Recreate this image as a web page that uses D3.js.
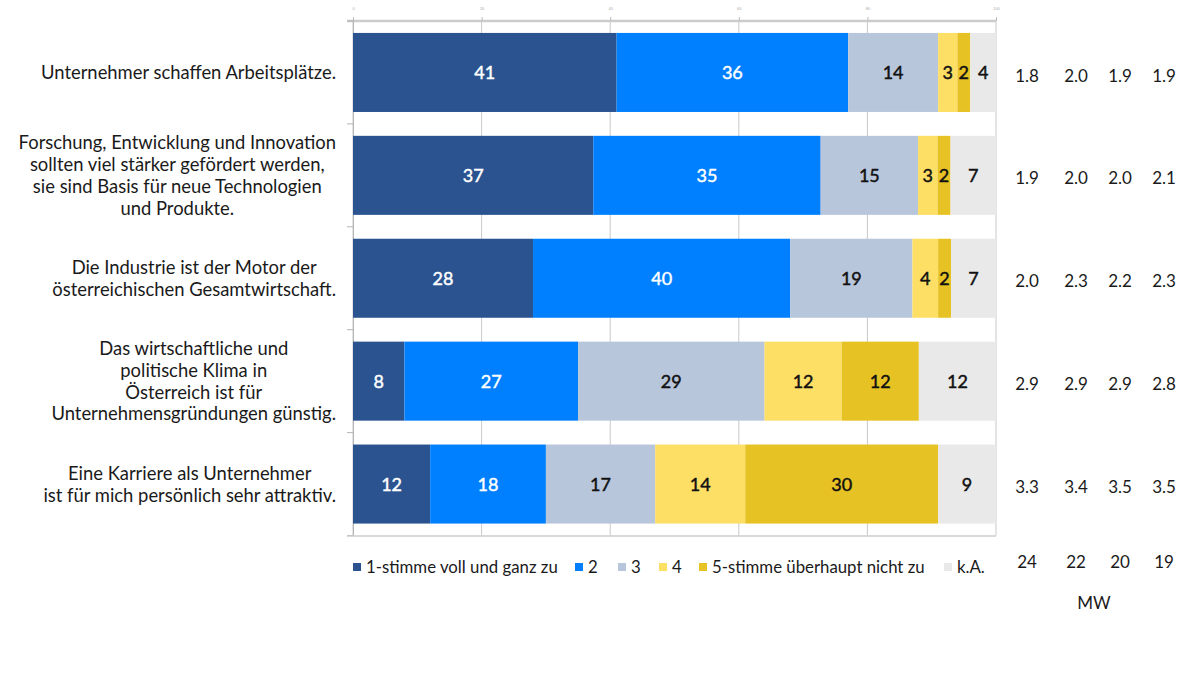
<!DOCTYPE html>
<html>
<head>
<meta charset="utf-8">
<script src="https://cdn.jsdelivr.net/npm/d3@7"></script>
<style>
  html, body { margin: 0; padding: 0; background: #fff; }
  svg { display: block; font-family: Lato, "Open Sans", sans-serif; }
</style>
</head>
<body>
<svg id="chart" width="1196" height="684"></svg>
<script>
// Statements (each entry is the list of wrapped lines)
const statements = [
  ["Unternehmer schaffen Arbeitsplätze."],
  ["Forschung, Entwicklung und Innovation", "sollten viel stärker gefördert werden,", "sie sind Basis für neue Technologien", "und Produkte."],
  ["Die Industrie ist der Motor der", "österreichischen Gesamtwirtschaft."],
  ["Das wirtschaftliche und", "politische Klima in", "Österreich ist für", "Unternehmensgründungen günstig."],
  ["Eine Karriere als Unternehmer", "ist für mich persönlich sehr attraktiv."]
];

// Answer categories
const answers = ["1-stimme voll und ganz zu", "2", "3", "4", "5-stimme überhaupt nicht zu", "k.A."];
const colors = ["#2a5390", "#0080ff", "#b8c6dc", "#fddf66", "#e6c224", "#e9e9e9"];
const labelColors = ["#ffffff", "#ffffff", "#111111", "#111111", "#111111", "#111111"];

// Percent shares per statement, in answer order
const share1 = [41, 37, 28, 8, 12];
const share2 = [36, 35, 40, 27, 18];
const share3 = [14, 15, 19, 29, 17];
const share4 = [3, 3, 4, 12, 14];
const share5 = [2, 2, 2, 12, 30];
const shareKA = [4, 7, 7, 12, 9];

// Mean values (MW) for four survey waves
const mwWaves = ["24", "22", "20", "19"];
const mwA = ["1.8", "1.9", "2.0", "2.9", "3.3"];
const mwB = ["2.0", "2.0", "2.3", "2.9", "3.4"];
const mwC = ["1.9", "2.0", "2.2", "2.9", "3.5"];
const mwD = ["1.9", "2.1", "2.3", "2.8", "3.5"];

const xTicks = [0, 20, 40, 60, 80, 100];

const svg = d3.select("#chart");

const x = d3.scaleLinear().domain([0, 100]).range([353, 996]);
const y = d3.scaleBand()
  .domain(d3.range(statements.length))
  .range([21, 535.5])
  .paddingInner(0.232)
  .paddingOuter(0.116);

const seriesArrays = [share1, share2, share3, share4, share5, shareKA];
const rows = statements.map((s, i) => {
  const vals = seriesArrays.map(a => a[i]);
  const total = d3.sum(vals);
  let acc = 0;
  return vals.map((v, k) => {
    const s0 = acc / total * 100;
    acc += v;
    const s1 = acc / total * 100;
    return { row: i, k, v, s0, s1 };
  });
});

// Vertical gridlines
svg.append("g")
  .selectAll("line")
  .data(xTicks)
  .join("line")
  .attr("x1", d => x(d)).attr("x2", d => x(d))
  .attr("y1", 21).attr("y2", 535.5)
  .attr("stroke", "#c9c9c9").attr("stroke-width", 1);

// Top axis
const topAxis = svg.append("g")
  .attr("transform", "translate(0,21)")
  .call(d3.axisTop(x).tickValues(xTicks).tickSize(4).tickPadding(7));
topAxis.select(".domain").attr("stroke", "#cccccc").attr("stroke-width", 2.5)
  .attr("d", `M347,0H${x(100)}`);
topAxis.selectAll(".tick line").attr("stroke", "#bbbbbb");
topAxis.selectAll(".tick text").attr("fill", "#aaaaaa").attr("font-size", 4);

// Left axis with ticks at band boundaries
const bounds = d3.range(statements.length + 1).map(i => 21 + i * y.step());
svg.append("line")
  .attr("x1", 353.5).attr("x2", 353.5).attr("y1", 21).attr("y2", 536)
  .attr("stroke", "#b5b5b5");
svg.append("g").selectAll("line").data(bounds).join("line")
  .attr("x1", 347).attr("x2", 353.5)
  .attr("y1", d => d).attr("y2", d => d)
  .attr("stroke", "#b5b5b5");
svg.append("line")
  .attr("x1", 347).attr("x2", x(100)).attr("y1", 536).attr("y2", 536)
  .attr("stroke", "#cccccc").attr("stroke-width", 1.5);

// Stacked bars
const rowG = svg.append("g").selectAll("g").data(rows).join("g");
rowG.selectAll("rect")
  .data(d => d)
  .join("rect")
  .attr("x", d => x(d.s0))
  .attr("width", d => x(d.s1) - x(d.s0))
  .attr("y", d => y(d.row))
  .attr("height", y.bandwidth())
  .attr("fill", d => colors[d.k]);

rowG.selectAll("text")
  .data(d => d)
  .join("text")
  .attr("x", d => (x(d.s0) + x(d.s1)) / 2)
  .attr("y", d => y(d.row) + y.bandwidth() / 2)
  .attr("dy", "0.36em")
  .attr("text-anchor", "middle")
  .attr("font-size", 18)
  .attr("fill", d => labelColors[d.k])
  .attr("stroke", d => labelColors[d.k])
  .attr("stroke-width", 0.45)
  .text(d => d.v);

// Statement labels: centred text, block right-aligned to the axis
const catG = svg.append("g");
statements.forEach((lines, i) => {
  const lh = 21.8;
  const cy = y(i) + y.bandwidth() / 2;
  const t = catG.append("text")
    .attr("font-size", 18.4)
    .attr("fill", "#1a1a1a")
    .attr("text-anchor", "middle");
  lines.forEach((ln, j) => {
    t.append("tspan")
      .attr("y", cy + (j - (lines.length - 1) / 2) * lh)
      .attr("dy", "0.36em")
      .text(ln);
  });
  let maxW = 0;
  t.selectAll("tspan").each(function () {
    maxW = Math.max(maxW, this.getComputedTextLength());
  });
  t.selectAll("tspan").attr("x", 336 - maxW / 2);
});

// Mean value columns
const mwCols = [mwA, mwB, mwC, mwD];
const mwX = d3.scaleOrdinal().domain(d3.range(4)).range([1027, 1076, 1120, 1164]);
mwCols.forEach((col, c) => {
  svg.append("g").selectAll("text").data(col).join("text")
    .attr("x", mwX(c))
    .attr("y", (d, i) => y(i) + y.bandwidth() / 2 + 3)
    .attr("dy", "0.36em")
    .attr("text-anchor", "middle")
    .attr("font-size", 17)
    .attr("fill", "#1a1a1a")
    .text(d => d);
});
svg.append("g").selectAll("text").data(mwWaves).join("text")
  .attr("x", (d, c) => mwX(c))
  .attr("y", 562)
  .attr("dy", "0.36em")
  .attr("text-anchor", "middle")
  .attr("font-size", 17)
  .attr("fill", "#1a1a1a")
  .text(d => d);
svg.append("text")
  .attr("x", 1094).attr("y", 603).attr("dy", "0.36em")
  .attr("text-anchor", "middle").attr("font-size", 17).attr("fill", "#1a1a1a")
  .text("MW");

// Legend
const legendX = [353, 575, 618, 659, 699, 944];
const legend = svg.append("g").selectAll("g").data(answers).join("g")
  .attr("transform", (d, i) => `translate(${legendX[i]},567)`);
legend.append("rect")
  .attr("x", 0).attr("y", -4).attr("width", 8).attr("height", 8)
  .attr("fill", (d, i) => colors[i]);
legend.append("text")
  .attr("x", 13).attr("y", 0).attr("dy", "0.36em")
  .attr("font-size", 16.8).attr("fill", "#1a1a1a")
  .text(d => d);
</script>
</body>
</html>
